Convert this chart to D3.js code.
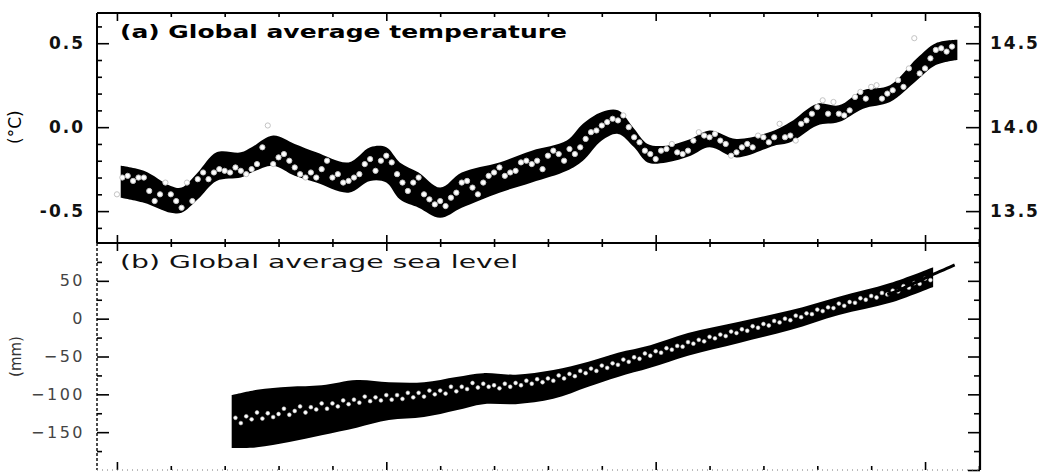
<!DOCTYPE html>
<html>
<head>
<meta charset="utf-8">
<script src="https://cdn.jsdelivr.net/npm/d3@7"></script>
<style>
  body { margin: 0; background: #fff; }
  svg { display: block; }
</style>
</head>
<body>
<div id="viz"></div>
<script>
// ---- data ----
const yearTicks = [1850, 1900, 1950, 2000];

// (a) temperature anomaly, smoothed band (degC, rel. 1961-1990)
const tempBandYears = [1850.7, 1855, 1860, 1862, 1865, 1868.5, 1873, 1875, 1879, 1883, 1887, 1893, 1897, 1900, 1902.5, 1906, 1910, 1914, 1921, 1927, 1933.5, 1936.5, 1940, 1943, 1946, 1948.5, 1952, 1956.5, 1960, 1965, 1972, 1975, 1980, 1984, 1988.5, 1993.5, 1998.5, 2002, 2006];
const tempBandHigh = [-0.23, -0.26, -0.35, -0.36, -0.27, -0.15, -0.15, -0.12, -0.05, -0.10, -0.15, -0.21, -0.12, -0.12, -0.21, -0.27, -0.36, -0.27, -0.21, -0.14, -0.08, 0.02, 0.09, 0.10, -0.01, -0.10, -0.11, -0.07, -0.02, -0.07, -0.02, 0.03, 0.14, 0.13, 0.22, 0.25, 0.41, 0.50, 0.52];
const tempBandLow = [-0.42, -0.45, -0.51, -0.51, -0.43, -0.32, -0.30, -0.27, -0.23, -0.29, -0.33, -0.39, -0.32, -0.33, -0.43, -0.48, -0.54, -0.48, -0.39, -0.33, -0.26, -0.20, -0.08, -0.04, -0.12, -0.21, -0.21, -0.17, -0.12, -0.18, -0.11, -0.09, 0.01, 0.03, 0.11, 0.15, 0.28, 0.37, 0.40];

// (a) annual values 1850-2005
const tempFirstYear = 1850;
const tempAnnual = [
  -0.40, -0.30, -0.29, -0.32, -0.30, -0.30, -0.38, -0.44, -0.40, -0.33,
  -0.40, -0.44, -0.48, -0.33, -0.44, -0.31, -0.27, -0.31, -0.27, -0.25,
  -0.26, -0.27, -0.24, -0.26, -0.28, -0.25, -0.22, -0.12, 0.01, -0.22,
  -0.18, -0.16, -0.20, -0.24, -0.28, -0.30, -0.27, -0.30, -0.25, -0.20,
  -0.30, -0.28, -0.33, -0.32, -0.30, -0.28, -0.22, -0.19, -0.26, -0.20,
  -0.17, -0.21, -0.28, -0.33, -0.38, -0.33, -0.30, -0.40, -0.43, -0.46,
  -0.44, -0.47, -0.42, -0.39, -0.33, -0.32, -0.36, -0.40, -0.33, -0.29,
  -0.27, -0.24, -0.29, -0.27, -0.26, -0.21, -0.20, -0.22, -0.20, -0.25,
  -0.17, -0.14, -0.16, -0.20, -0.13, -0.16, -0.12, -0.07, -0.03, -0.02,
  0.01, 0.03, 0.05, 0.04, 0.07, 0.00, -0.06, -0.09, -0.14, -0.16,
  -0.19, -0.14, -0.13, -0.10, -0.15, -0.16, -0.14, -0.08, -0.03, -0.05,
  -0.06, -0.04, -0.08, -0.10, -0.17, -0.15, -0.12, -0.10, -0.12, -0.05,
  -0.06, -0.09, -0.06, 0.02, -0.06, -0.05, -0.08, 0.02, 0.04, 0.08,
  0.12, 0.16, 0.08, 0.15, 0.08, 0.07, 0.10, 0.18, 0.21, 0.17,
  0.24, 0.25, 0.17, 0.20, 0.22, 0.28, 0.24, 0.35, 0.53, 0.32,
  0.35, 0.41, 0.46, 0.47, 0.45, 0.48
];
const tempTicks = [-0.5, 0.0, 0.5];
const tempTickLabels = ["-0.5", "0.0", "0.5"];
const absTickLabels = ["13.5", "14.0", "14.5"];

// (b) sea level (mm), tide gauge band
const seaBandYears = [1871.3, 1876, 1882, 1888, 1894.5, 1900.5, 1907, 1913, 1918, 1924, 1931, 1937.5, 1943, 1949, 1956, 1965.5, 1975, 1984, 1993.5, 2001.5];
const seaBandHigh = [-101, -94, -90, -88, -81, -84, -84, -77, -72, -74, -68, -57, -45, -35, -19, -4, 11, 29, 47, 68];
const seaBandLow = [-171, -170, -163, -154, -144, -134, -130, -121, -113, -113, -106, -90, -77, -65, -49, -32, -15, 5, 21, 42];

// (b) annual tide gauge values 1872-2001
const seaFirstYear = 1872;
const seaAnnual = [
  -131, -138, -129, -133, -124, -132, -125, -130,
  -126, -119, -127, -122, -116, -124, -117, -120, -112, -119,
  -112, -116, -108, -113, -107, -111, -103, -109, -104, -108,
  -101, -107, -101, -106, -98, -104, -98, -103, -95, -100,
  -95, -99, -90, -96, -90, -93, -85, -91, -86, -90,
  -88, -92, -86, -90, -85, -88, -82, -86, -80, -84,
  -79, -82, -75, -79, -73, -76, -69, -72, -66, -69,
  -62, -65, -59, -61, -54, -57, -51, -53, -46, -49,
  -43, -45, -39, -41, -36, -37, -31, -33, -28, -30,
  -24, -26, -21, -23, -17, -19, -14, -16, -10, -12,
  -7, -9, -3, -5, 0, -2, 4, 2, 7, 6,
  12, 10, 15, 14, 20, 17, 22, 21, 27, 25,
  30, 28, 34, 32, 37, 36, 43, 41, 47, 46,
  53, 51
];
// (b) satellite altimetry
const satYears = [1993, 1995, 1997, 1999, 2001, 2003, 2005.5];
const satValues = [32, 37, 44, 50, 57, 63, 71];
const seaTicks = [-150, -100, -50, 0, 50];

// ---- chart ----
const width = 1047;
const height = 472;
const left = 97, right = 980;
const aTop = 13, mid = 243, bBottom = 470;

const svg = d3.select('#viz').append('svg')
    .attr('width', width)
    .attr('height', height)
    .style('background', '#fff');

const x = d3.scaleLinear().domain([1846.3, 2010.2]).range([left, right]);
const yT = d3.scaleLinear().domain([-0.69, 0.68]).range([mid, aTop]);
const yS = d3.scaleLinear().domain([-200, 100]).range([bBottom, mid]);

const minorYears = d3.range(1850, 2011, 10).filter(d => !yearTicks.includes(d));
const tempMinor = [-0.6, -0.4, -0.3, -0.2, -0.1, 0.1, 0.2, 0.3, 0.4, 0.6];
const seaMinor = [-175, -125, -75, -25, 25, 75];

// bands
const tempBand = tempBandYears.map((yr, i) => ({ yr, lo: tempBandLow[i], hi: tempBandHigh[i] }));
svg.append('path')
    .datum(tempBand)
    .attr('fill', '#000')
    .attr('d', d3.area().curve(d3.curveCatmullRom)
        .x(d => x(d.yr)).y0(d => yT(d.lo)).y1(d => yT(d.hi)));

svg.append('g').selectAll('circle')
    .data(tempAnnual)
    .join('circle')
    .attr('cx', (d, i) => x(tempFirstYear + i))
    .attr('cy', d => yT(d))
    .attr('r', 2.6)
    .attr('fill', '#fff')
    .attr('stroke', '#c4c4c4')
    .attr('stroke-width', 1);

const seaBand = seaBandYears.map((yr, i) => ({ yr, lo: seaBandLow[i], hi: seaBandHigh[i] }));
svg.append('path')
    .datum(seaBand)
    .attr('fill', '#000')
    .attr('d', d3.area().curve(d3.curveCatmullRom)
        .x(d => x(d.yr)).y0(d => yS(d.lo)).y1(d => yS(d.hi)));

svg.append('g').selectAll('circle')
    .data(seaAnnual)
    .join('circle')
    .attr('cx', (d, i) => x(seaFirstYear + i))
    .attr('cy', d => yS(d))
    .attr('r', 1.9)
    .attr('fill', '#fff')
    .attr('stroke', '#bbb')
    .attr('stroke-width', 0.6);

svg.append('path')
    .datum(satYears.map((yr, i) => [yr, satValues[i]]))
    .attr('fill', 'none')
    .attr('stroke', '#000')
    .attr('stroke-width', 3)
    .attr('d', d3.line().curve(d3.curveMonotoneX).x(d => x(d[0])).y(d => yS(d[1])));

// axes
function tidy(g) {
    g.select('.domain').remove();
    g.selectAll('line').attr('stroke', '#000').attr('stroke-width', 1.6);
}

// panel (a) left
svg.append('g').attr('transform', `translate(${left},0)`)
    .call(d3.axisLeft(yT).tickValues(tempMinor).tickSize(-5).tickFormat(''))
    .call(tidy);
svg.append('g').attr('transform', `translate(${left},0)`)
    .call(d3.axisLeft(yT).tickValues(tempTicks).tickSize(-12).tickPadding(12)
        .tickFormat((d, i) => tempTickLabels[i]))
    .call(tidy)
    .call(g => g.selectAll('text')
        .attr('font-family', 'DejaVu Sans').attr('font-weight', 'bold')
        .attr('font-size', 17).attr('letter-spacing', 2).attr('fill', '#111'));

// panel (a) right
svg.append('g').attr('transform', `translate(${right},0)`)
    .call(d3.axisRight(yT).tickValues(tempMinor).tickSize(-6).tickFormat(''))
    .call(tidy);
svg.append('g').attr('transform', `translate(${right},0)`)
    .call(d3.axisRight(yT).tickValues(tempTicks).tickSize(-14).tickPadding(10)
        .tickFormat((d, i) => absTickLabels[i]))
    .call(tidy)
    .call(g => g.selectAll('text')
        .attr('font-family', 'DejaVu Sans').attr('font-weight', 'bold')
        .attr('font-size', 17).attr('letter-spacing', 2).attr('fill', '#111'));

// panel (b) left
svg.append('g').attr('transform', `translate(${left},0)`)
    .call(d3.axisLeft(yS).tickValues(seaMinor).tickSize(-5).tickFormat(''))
    .call(tidy);
svg.append('g').attr('transform', `translate(${left},0)`)
    .call(d3.axisLeft(yS).tickValues(seaTicks).tickSize(-12).tickPadding(12).tickFormat(d3.format('d')))
    .call(tidy)
    .call(g => g.selectAll('text')
        .attr('font-family', 'DejaVu Sans')
        .attr('font-size', 16).attr('letter-spacing', 2.5).attr('fill', '#444'));

// panel (b) right
svg.append('g').attr('transform', `translate(${right},0)`)
    .call(d3.axisRight(yS).tickValues(seaMinor).tickSize(-6).tickFormat(''))
    .call(tidy);
svg.append('g').attr('transform', `translate(${right},0)`)
    .call(d3.axisRight(yS).tickValues([-200, -150, -100, -50, 0, 50]).tickSize(-12).tickFormat(''))
    .call(tidy);

// horizontal axes (their labels fall below the cropped picture)
[[aTop, d3.axisTop], [mid, d3.axisBottom], [mid, d3.axisTop], [bBottom, d3.axisBottom]].forEach(([yy, ax]) => {
    svg.append('g').attr('transform', `translate(0,${yy})`)
        .call(ax(x).tickValues(minorYears).tickSize(-4).tickFormat(''))
        .call(tidy);
    svg.append('g').attr('transform', `translate(0,${yy})`)
        .call(ax(x).tickValues(yearTicks).tickSize(-8).tickFormat(''))
        .call(tidy);
});

// frame
const frame = svg.append('g').attr('fill', 'none').attr('stroke', '#000');
frame.append('line').attr('x1', left).attr('x2', right).attr('y1', aTop).attr('y2', aTop).attr('stroke-width', 2.2);
frame.append('line').attr('x1', left).attr('x2', right).attr('y1', mid).attr('y2', mid).attr('stroke-width', 2);
frame.append('line').attr('x1', left).attr('x2', left).attr('y1', aTop).attr('y2', mid).attr('stroke-width', 2);
frame.append('line').attr('x1', right).attr('x2', right).attr('y1', aTop).attr('y2', bBottom).attr('stroke-width', 2.2);
frame.append('line').attr('x1', left).attr('x2', left).attr('y1', mid).attr('y2', bBottom)
    .attr('stroke-width', 1.4).attr('stroke-dasharray', '3,2');
frame.append('line').attr('x1', left).attr('x2', right).attr('y1', bBottom).attr('y2', bBottom)
    .attr('stroke', '#777').attr('stroke-width', 1).attr('stroke-dasharray', '1,4');

// titles
svg.append('text')
    .attr('x', 120).attr('y', 38)
    .attr('font-family', 'DejaVu Sans').attr('font-weight', 'bold').attr('font-size', 18)
    .attr('textLength', 447).attr('lengthAdjust', 'spacingAndGlyphs')
    .text('(a) Global average temperature');
svg.append('text')
    .attr('x', 120).attr('y', 268)
    .attr('font-family', 'DejaVu Sans').attr('font-size', 18).attr('fill', '#111')
    .attr('textLength', 398).attr('lengthAdjust', 'spacingAndGlyphs')
    .text('(b) Global average sea level');

// y labels
svg.append('text')
    .attr('transform', `translate(21,${yT(0)}) rotate(-90)`)
    .attr('text-anchor', 'middle')
    .attr('font-family', 'DejaVu Sans').attr('font-size', 17)
    .text('(°C)');
svg.append('text')
    .attr('transform', `translate(21,${yS(-50)}) rotate(-90)`)
    .attr('text-anchor', 'middle')
    .attr('font-family', 'DejaVu Sans').attr('font-size', 15).attr('fill', '#333')
    .text('(mm)');
</script>
</body>
</html>
